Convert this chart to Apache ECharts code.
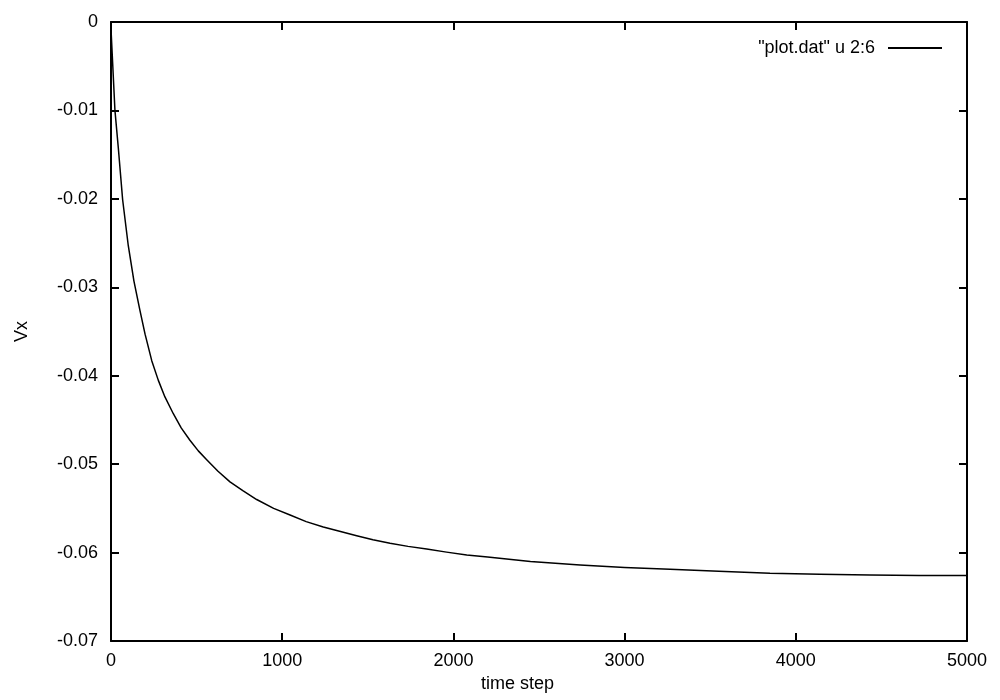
<!DOCTYPE html>
<html>
<head>
<meta charset="utf-8">
<script src="https://cdn.jsdelivr.net/npm/echarts@6/dist/echarts.min.js"></script>
<style>
html,body{margin:0;padding:0;background:#fff;}
#c{width:1000px;height:700px;}
</style>
</head>
<body>
<div id="c"></div>
<script>
const timeSteps = [0, 23, 43, 68, 101, 134, 169, 199, 238, 276, 315, 364, 410, 461, 510, 559, 625, 695, 770, 851, 950, 1046, 1140, 1240, 1335, 1435, 1530, 1630, 1735, 1844, 1960, 2078, 2200, 2450, 2740, 3000, 3265, 3550, 3849, 4140, 4433, 4720, 5000];
const vxValues = [-0.0008, -0.0100, -0.0143, -0.0201, -0.0253, -0.0293, -0.0326, -0.0353, -0.0383, -0.0405, -0.0424, -0.0443, -0.0459, -0.0473, -0.0485, -0.0495, -0.0508, -0.0520, -0.0530, -0.0540, -0.0550, -0.05575, -0.0565, -0.0571, -0.0576, -0.0581, -0.05855, -0.05895, -0.0593, -0.0596, -0.05995, -0.06027, -0.0605, -0.0610, -0.0614, -0.0617, -0.0619, -0.0621, -0.06235, -0.06245, -0.06254, -0.06258, -0.0626];
const seriesName = '"plot.dat" u 2:6';
const xName = 'time step';
const yName = 'Vx';

const font = 'Liberation Sans, Arial, sans-serif';
const data = timeSteps.map((t, i) => [t, vxValues[i]]);

const chart = echarts.init(document.getElementById('c'), null, {renderer: 'canvas'});
const lineAxis = {show: true, onZero: false, lineStyle: {color: '#000', width: 2}};
const tick = {show: true, inside: true, length: 8, lineStyle: {color: '#000', width: 2}};
chart.setOption({
  animation: false,
  backgroundColor: '#fff',
  grid: {left: 111, right: 33, top: 22, bottom: 59},
  legend: {
    right: 53, top: 34,
    itemWidth: 54, itemHeight: 2,
    align: 'right',
    textStyle: {fontFamily: font, fontSize: 18, color: '#000', padding: [0, 8, 0, 0]},
    data: [{name: seriesName, icon: 'rect', itemStyle: {color: '#000'}}]
  },
  xAxis: [{
    type: 'value', min: 0, max: 5000, interval: 1000,
    axisLine: lineAxis, axisTick: tick, splitLine: {show: false},
    axisLabel: {fontFamily: font, fontSize: 18, color: '#000', margin: 11, formatter: v => String(v)},
    name: xName, nameLocation: 'middle', nameGap: 30,
    nameTextStyle: {fontFamily: font, fontSize: 18, color: '#000', padding: [0, 43, 0, 0]}
  }, {
    type: 'value', position: 'top', min: 0, max: 5000, interval: 1000,
    axisLine: lineAxis, axisTick: tick, splitLine: {show: false},
    axisLabel: {show: false}
  }],
  yAxis: [{
    type: 'value', min: -0.07, max: 0, interval: 0.01,
    axisLine: lineAxis, axisTick: tick, splitLine: {show: false},
    axisLabel: {fontFamily: font, fontSize: 18, color: '#000', margin: 13, formatter: v => String(+v.toFixed(2))},
    name: yName, nameLocation: 'middle', nameGap: 80, nameRotate: 90,
    nameTextStyle: {fontFamily: font, fontSize: 18, color: '#000'}
  }, {
    type: 'value', position: 'right', min: -0.07, max: 0, interval: 0.01,
    axisLine: lineAxis, axisTick: tick, splitLine: {show: false},
    axisLabel: {show: false}
  }],
  series: [{
    name: seriesName,
    type: 'line',
    data: data,
    symbol: 'none',
    smooth: false,
    lineStyle: {color: '#000', width: 1.5, join: 'round'},
    itemStyle: {color: '#000'}
  }]
});
</script>
</body>
</html>
